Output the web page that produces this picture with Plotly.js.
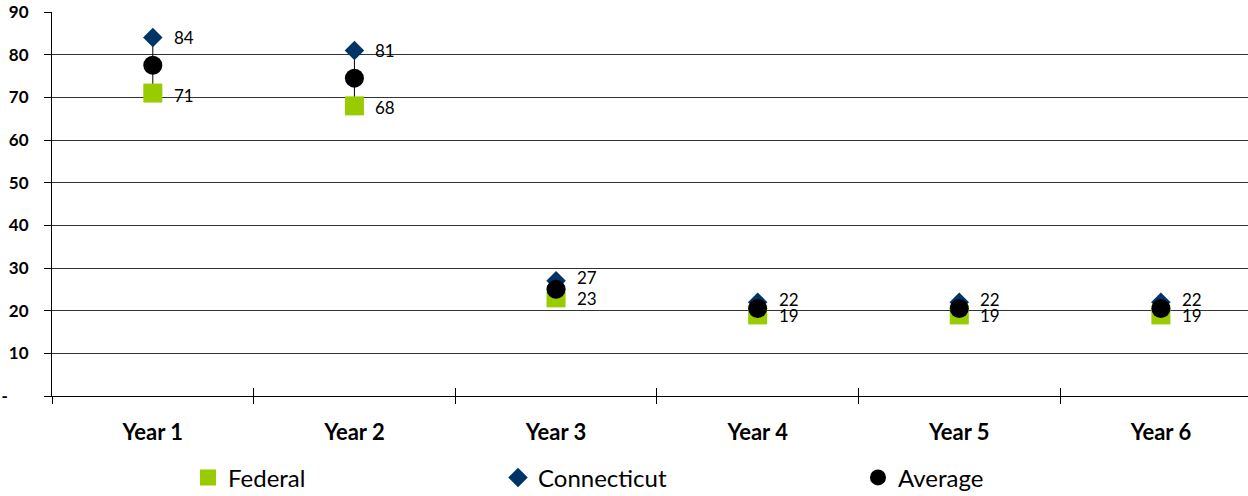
<!DOCTYPE html>
<html>
<head>
<meta charset="utf-8">
<script src="https://cdn.plot.ly/plotly-3.0.1.min.js"></script>
<style>
  html, body { margin: 0; padding: 0; background: #fff; }
  #chart { width: 1248px; height: 496px; }
</style>
</head>
<body>
<div id="chart"></div>
<script>
// Categories and series
const years = ['Year 1', 'Year 2', 'Year 3', 'Year 4', 'Year 5', 'Year 6'];
const federal = [71, 68, 23, 19, 19, 19];
const connecticut = [84, 81, 27, 22, 22, 22];
const average = [77.5, 74.5, 25, 20.5, 20.5, 20.5];

// Y axis ticks (zero shown as a dash)
const yTickVals = [0, 10, 20, 30, 40, 50, 60, 70, 80, 90];
const yTickText = ['-\u00a0\u00a0\u00a0\u00a0\u00a0', '10', '20', '30', '40', '50', '60', '70', '80', '90'];

const FONT = 'Lato, "Open Sans", sans-serif';
const GREEN = '#99CC00';
const NAVY = '#003366';

// High-low connector between Federal and Connecticut in each year
const hlX = [], hlY = [];
years.forEach((yr, i) => {
  hlX.push(yr, yr, null);
  hlY.push(federal[i], connecticut[i], null);
});

const traces = [
  {
    x: hlX, y: hlY, type: 'scatter', mode: 'lines',
    line: { color: '#000', width: 1 },
    showlegend: false, hoverinfo: 'skip', cliponaxis: false
  },
  {
    name: 'Federal', x: years, y: federal, type: 'scatter', mode: 'markers',
    marker: { symbol: 'square', size: 19, color: GREEN },
    legend: 'legend', cliponaxis: false
  },
  {
    name: 'Connecticut', x: years, y: connecticut, type: 'scatter', mode: 'markers',
    marker: { symbol: 'diamond', size: 15, color: NAVY },
    legend: 'legend2', cliponaxis: false
  },
  {
    name: 'Average', x: years, y: average, type: 'scatter', mode: 'markers',
    marker: { symbol: 'circle', size: 19, color: '#000' },
    legend: 'legend3', cliponaxis: false
  }
];

// Value labels to the right of the Federal and Connecticut markers
const annotations = [];
years.forEach((yr, i) => {
  const close = connecticut[i] - federal[i] < 6;
  annotations.push({
    x: yr, y: connecticut[i], xref: 'x', yref: 'y', text: String(connecticut[i]),
    showarrow: false, xanchor: 'left', yanchor: 'middle', xshift: 19,
    yshift: close ? 3 : 0,
    font: { family: FONT, size: 17, color: '#000' }
  });
  annotations.push({
    x: yr, y: federal[i], xref: 'x', yref: 'y', text: String(federal[i]),
    showarrow: false, xanchor: 'left', yanchor: 'middle', xshift: 19,
    yshift: close ? -1 : -2,
    font: { family: FONT, size: 17, color: '#000' }
  });
});

const legendBase = {
  orientation: 'h', yanchor: 'middle', xanchor: 'left', y: -0.213,
  font: { family: FONT, size: 24, color: '#000' },
  bgcolor: 'rgba(0,0,0,0)', borderwidth: 0
};

const layout = {
  width: 1248, height: 496,
  margin: { l: 52, r: 0, t: 12, b: 100, autoexpand: false },
  paper_bgcolor: '#fff', plot_bgcolor: '#fff',
  font: { family: FONT, color: '#000' },
  showlegend: true,
  legend: Object.assign({}, legendBase, { x: 0.1137 }),
  legend2: Object.assign({}, legendBase, { x: 0.3729 }),
  legend3: Object.assign({}, legendBase, { x: 0.6739 }),
  xaxis: {
    type: 'category', range: [-0.5, 5.432], automargin: false,
    showgrid: false, zeroline: false,
    showline: true, linecolor: '#000', linewidth: 1,
    tickson: 'boundaries', ticks: 'outside', ticklen: 7, tickcolor: '#000', tickwidth: 1,
    ticklabelstandoff: 17,
    tickfont: { family: FONT, size: 22, color: '#000', weight: 'bold' },
    fixedrange: true
  },
  xaxis2: {
    type: 'category', range: [-0.5, 5.432], overlaying: 'x', anchor: 'y', automargin: false,
    showgrid: false, zeroline: false, showline: false, showticklabels: false,
    tickson: 'boundaries', ticks: 'inside', ticklen: 8, tickcolor: '#000', tickwidth: 1,
    categoryarray: years, categoryorder: 'array'
  },
  yaxis: {
    range: [0, 90], tickvals: yTickVals, ticktext: yTickText, automargin: false,
    showgrid: true, gridcolor: '#333', gridwidth: 1, zeroline: false,
    showline: true, linecolor: '#000', linewidth: 1,
    ticks: 'outside', ticklen: 7, tickcolor: '#000', tickwidth: 1,
    ticklabelstandoff: 12,
    tickfont: { family: FONT, size: 17, color: '#000', weight: 'bold' },
    fixedrange: true
  },
  annotations: annotations
};

// Invisible trace so the inside tick marks on the overlaid axis are drawn
traces.push({
  x: years, y: federal, xaxis: 'x2', type: 'scatter', mode: 'markers',
  marker: { opacity: 0 }, showlegend: false, hoverinfo: 'skip'
});

Plotly.newPlot('chart', traces, layout, { displayModeBar: false, staticPlot: true });
</script>
</body>
</html>
